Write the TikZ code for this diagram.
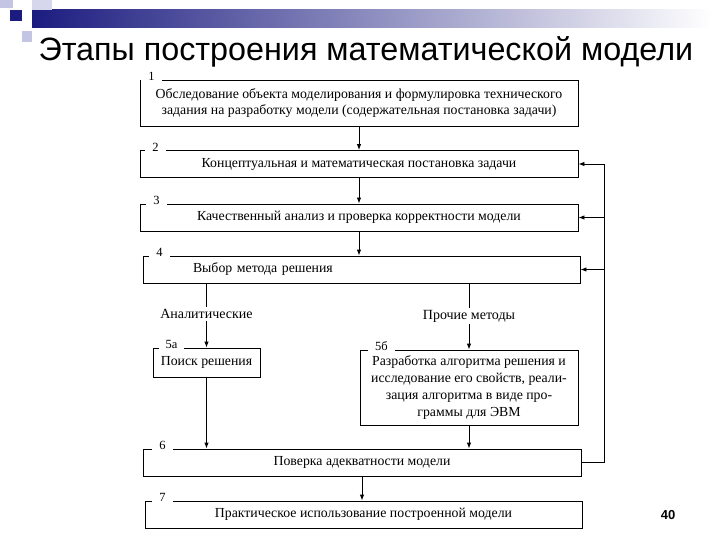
\documentclass[tikz,border=0pt]{standalone}
\usepackage{fontspec}
\setmainfont{Liberation Serif}
\newfontfamily\headfont{Liberation Sans}
\usetikzlibrary{arrows.meta, positioning}

\definecolor{slidenavy}{RGB}{28,28,128}
\definecolor{slidelav}{RGB}{196,196,228}

\begin{document}
\begin{tikzpicture}[
  x=1pt, y=-1pt,
  stagebox/.style={draw, line width=0.9pt, fill=white, minimum height=27pt,
    align=center, inner sep=2pt, font=\fontsize{13.8}{16.8}\selectfont},
  stagenum/.style={fill=white, inner xsep=7pt, inner ysep=0pt,
    font=\fontsize{12.5}{14}\selectfont},
  branch/.style={fill=white, inner sep=2pt, font=\fontsize{14}{16}\selectfont},
  flow/.style={line width=0.9pt, -{Latex[length=6pt, width=4.5pt]}},
  link/.style={line width=0.9pt},
]
  \useasboundingbox (0,0) rectangle (720,540);

  % slide header
  \shade[left color=slidenavy, right color=white] (32,10) rectangle (712,28);
  \fill[slidelav] (0,0) rectangle (13,8);
  \fill[slidelav!70] (32,0) rectangle (52,10);
  \fill[slidenavy] (10,10) rectangle (22,21);
  \fill[slidelav] (22,31) rectangle (32,42);
  \node[anchor=base west, font=\headfont\fontsize{32.3}{36}\selectfont] (title) at (35,61)
    {Этапы построения математической модели};

  % stages
  \node[stagebox, minimum width=438pt, minimum height=46pt] (s1) at (359,103)
    {Обследование объекта моделирования и формулировка технического\\
     задания на разработку модели (содержательная постановка задачи)};
  \node[stagebox, minimum width=438pt] (s2) at (359,164)
    {Концептуальная и математическая постановка задачи};
  \node[stagebox, minimum width=438pt] (s3) at (359,217.5)
    {Качественный анализ и проверка корректности модели};
  \node[stagebox, minimum width=437pt, text width=337pt, align=left,
    inner xsep=50pt] (s4) at (361.5,269.5)
    {Выбор метода решения};
  \node[stagebox, minimum width=107pt, minimum height=29pt] (s5a) at (206.5,362.5)
    {Поиск решения};
  \node[stagebox, minimum width=218pt, minimum height=75pt] (s5b) at (469,387.5)
    {Разработка алгоритма решения и\\
     исследование его свойств, реали-\\
     зация алгоритма в виде про-\\
     граммы для ЭВМ};
  \node[stagebox, minimum width=438pt] (s6) at (362,462.5)
    {Поверка адекватности модели};
  \node[stagebox, minimum width=437pt] (s7) at (363.5,514.5)
    {Практическое использование построенной модели};

  % stage numbers on the top edges
  \node[stagenum, yshift=3pt] at ([xshift=12pt]s1.north west) {1};
  \node[stagenum, yshift=3pt] at ([xshift=16pt]s2.north west) {2};
  \node[stagenum, yshift=3pt] at ([xshift=17pt]s3.north west) {3};
  \node[stagenum, yshift=3pt] at ([xshift=17pt]s4.north west) {4};
  \node[stagenum, yshift=3pt] at ([xshift=19pt]s5a.north west) {5а};
  \node[stagenum, yshift=3pt] at ([xshift=22pt]s5b.north west) {5б};
  \node[stagenum, yshift=3pt] at ([xshift=20pt]s6.north west) {6};
  \node[stagenum, yshift=3pt] at ([xshift=18pt]s7.north west) {7};

  % branch labels
  \node[branch] (anal) at (206.5,314) {Аналитические};
  \node[branch] (other) at (469,316) {Прочие методы};

  % main flow
  \draw[flow] (s1) -- (s2);
  \draw[flow] (s2.south) -- (s2.south |- s3.north);
  \draw[flow] (s3.south) -- (s3.south |- s4.north);
  \draw[link] (s4.south -| anal) -- (anal);
  \draw[flow] (anal.south) -- (anal.south |- s5a.north);
  \draw[link] (s4.south -| other) -- (other);
  \draw[flow] (other.south) -- (other.south |- s5b.north);
  \draw[flow] (s5a.south) -- (s5a.south |- s6.north);
  \draw[flow] (s5b.south) -- (s5b.south |- s6.north);
  \draw[flow] (s6.south) -- (s6.south |- s7.north);

  % feedback
  \coordinate (fb) at (604,0);
  \draw[flow] (s6.east) -| (fb |- s2.east) -- (s2.east);
  \draw[flow] (fb |- s3.east) -- (s3.east);
  \draw[flow] (fb |- s4.east) -- (s4.east);

  % page number
  \node[font=\headfont\bfseries\fontsize{13}{15}\selectfont] (page) at (668,515) {40};
\end{tikzpicture}
\end{document}
